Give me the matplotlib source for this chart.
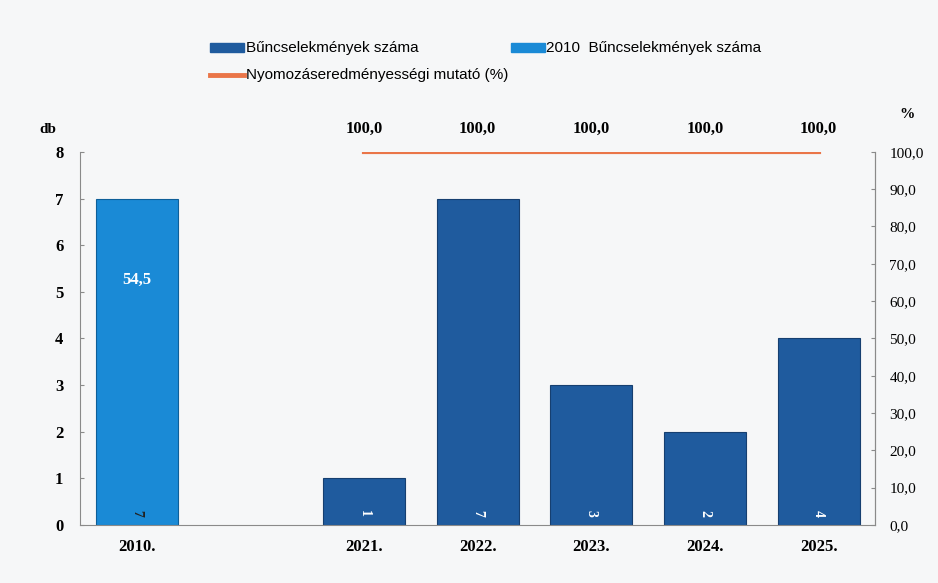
import matplotlib.pyplot as plt
import numpy as np

# adatok
kategoriak = ["2010.", "", "2021.", "2022.", "2023.", "2024.", "2025."]
buncselekmenyek = [None, None, 1, 7, 3, 2, 4]
buncs_2010 = [7, None, None, None, None, None, None]
mutato = [None, None, 100.0, 100.0, 100.0, 100.0, 100.0]
mutato_2010 = 54.5

sotet = "#1f5b9e"
vilagos = "#1a8ad6"
narancs = "#ea7548"
szurke = "#8a8a8a"

serif = ["Liberation Serif", "DejaVu Serif"]
narrow = ["Liberation Sans Narrow", "Liberation Sans", "DejaVu Sans"]

fig = plt.figure(figsize=(9.38, 5.83), dpi=100)
fig.patch.set_facecolor("#f6f7f8")
ax = fig.add_axes([0.0853, 0.0995, 0.848, 0.64])
ax.set_facecolor("none")

x = np.arange(len(kategoriak))
w = 0.72
for i in x:
    if buncs_2010[i] is not None:
        ax.bar(i, buncs_2010[i], w, color=vilagos, edgecolor="#0e5f99", linewidth=0.8, zorder=2)
        ax.text(i, 0.25, str(buncs_2010[i]), rotation=-90, ha="center", va="center",
                fontsize=10, color="#222222", family=serif, fontweight="bold")
    if buncselekmenyek[i] is not None:
        ax.bar(i, buncselekmenyek[i], w, color=sotet, edgecolor="#163f70", linewidth=0.8, zorder=2)
        ax.text(i, 0.25, str(buncselekmenyek[i]), rotation=-90, ha="center", va="center",
                fontsize=10, color="white", family=serif, fontweight="bold")

ax.text(0, 5.25, "54,5", ha="center", va="center", fontsize=12, color="white",
        family=serif, fontweight="bold")

ax.set_xlim(-0.5, len(kategoriak) - 0.5)
ax.set_ylim(0, 8)
ax.set_yticks(range(0, 9))
ax.set_xticks(x)
ax.set_xticklabels(kategoriak)
for lab in ax.get_xticklabels() + ax.get_yticklabels():
    lab.set_family(serif)
    lab.set_fontweight("bold")
    lab.set_fontsize(12)
ax.tick_params(axis="x", length=0, pad=10)
ax.tick_params(axis="y", direction="in", length=3, color=szurke, pad=12)
ax.spines["top"].set_visible(False)
for s in ["left", "bottom", "right"]:
    ax.spines[s].set_color(szurke)
ax.text(-0.04, 1.06, "db", transform=ax.transAxes, ha="center", va="center",
        fontsize=11, family=serif, fontweight="bold")

ax2 = ax.twinx()
ax2.set_ylim(0, 100)
ax2.set_yticks(range(0, 101, 10))
ax2.set_yticklabels(["%.1f" % v for v in range(0, 101, 10)])
ax2.set_yticklabels([t.get_text().replace(".", ",") for t in ax2.get_yticklabels()])
for lab in ax2.get_yticklabels():
    lab.set_family(serif)
    lab.set_fontsize(11)
ax2.tick_params(axis="y", direction="in", length=3, color=szurke, pad=10)
for s in ax2.spines.values():
    s.set_visible(False)
ax2.spines["right"].set_visible(True)
ax2.spines["right"].set_color(szurke)
ax2.text(1.04, 1.10, "%", transform=ax2.transAxes, ha="center", va="center",
         fontsize=11, family=serif, fontweight="bold")

xs = [i for i in x if mutato[i] is not None]
ys = [mutato[i] for i in xs]
ax2.plot(xs, ys, color=narancs, linewidth=3, zorder=3)
for xi, yi in zip(xs, ys):
    ax2.text(xi, yi + 4, ("%.1f" % yi).replace(".", ","), ha="center", va="bottom",
             fontsize=12, family=serif, fontweight="bold")

# jelmagyarazat
fig.patches.append(plt.Rectangle((0.224, 0.910), 0.036, 0.016, transform=fig.transFigure,
                                 color=sotet, figure=fig))
fig.text(0.262, 0.918, "Bűncselekmények száma", ha="left", va="center", fontsize=11, family=narrow)
fig.patches.append(plt.Rectangle((0.545, 0.910), 0.036, 0.016, transform=fig.transFigure,
                                 color=vilagos, figure=fig))
fig.text(0.582, 0.918, "2010  Bűncselekmények száma", ha="left", va="center", fontsize=11, family=narrow)
fig.lines.append(plt.Line2D([0.224, 0.260], [0.872, 0.872], transform=fig.transFigure,
                            color=narancs, linewidth=3.5, figure=fig))
fig.text(0.262, 0.872, "Nyomozáseredményességi mutató (%)", ha="left", va="center", fontsize=11, family=narrow)

fig.savefig("out.png", dpi=100, facecolor=fig.get_facecolor())
